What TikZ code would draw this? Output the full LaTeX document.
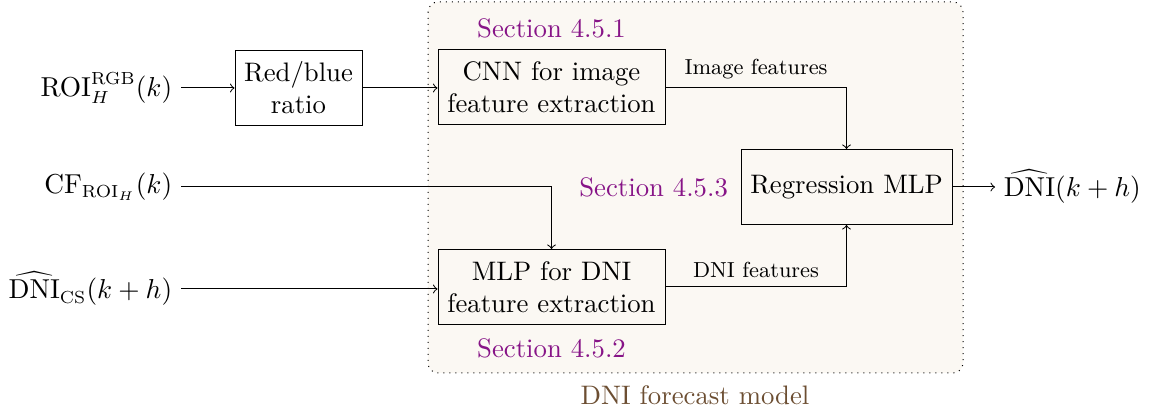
\documentclass[tikz,border=0pt]{standalone}
\usetikzlibrary{positioning}
\definecolor{secpurple}{RGB}{135,20,135}
\definecolor{modelbrown}{RGB}{108,78,50}
\definecolor{modelbg}{RGB}{251,248,243}
\tikzset{
	block/.style = {draw, align=center, minimum height=30pt, inner sep=2pt},
	seclabel/.style = {text=secpurple},
	feat/.style = {font=\fontsize{8.7}{10.4}\selectfont},
}
\begin{document}
\begin{tikzpicture} [x=0.4pt, y=-0.4pt, font=\fontsize{10.7}{12.8}\selectfont]
	\useasboundingbox (0,0) rectangle (1154,411);
	\draw [dotted, rounded corners=4pt, fill=modelbg] (428,2) rectangle (963,373);
	\node [text=modelbrown] (model) at (695,395) {DNI forecast model};
	\node [block, minimum width=50.8pt] (ratio) at (298.5,88) {Red/blue\\ratio};
	\node [block, minimum width=90.8pt] (cnn) at (551.5,87.5) {CNN for image\\feature extraction};
	\node [block, minimum width=90.8pt] (mlp) at (551.5,287) {MLP for DNI\\feature extraction};
	\node [block, minimum width=84.4pt] (reg) at (846.5,187) {Regression MLP};
	\node [seclabel, above=1pt of cnn] (sec1) {Section 4.5.1};
	\node [seclabel, below=2pt of mlp] (sec2) {Section 4.5.2};
	\node [seclabel, left=1.5pt of reg] (sec3) {Section 4.5.3};
	\node [anchor=east] (roi) at (181,88) {$\mathrm{ROI}_H^{\mathrm{RGB}}(k)$};
	\node [anchor=east] (cf) at (181,187) {$\mathrm{CF}_{\mathrm{ROI}_H}(k)$};
	\node [anchor=east] (cs) at (181,289) {$\widehat{\mathrm{DNI}}_{\mathrm{CS}}(k+h)$};
	\node [anchor=west] (out) at (995,187) {$\widehat{\mathrm{DNI}}(k+h)$};
	\draw [->] (roi.east) -- (ratio.west);
	\draw [->] (ratio.east) -- (ratio.east -| cnn.west);
	\draw [->] (cf.east) -| (mlp.north);
	\draw [->] (cs.east) -- (cs.east -| mlp.west);
	\draw [->] (cnn.east) -| node [feat, pos=0.25, above] {Image features} (reg.north);
	\draw [->] (mlp.east) -| node [feat, pos=0.25, above] {DNI features} (reg.south);
	\draw [->] (reg.east) -- (out.west);
\end{tikzpicture}
\end{document}
